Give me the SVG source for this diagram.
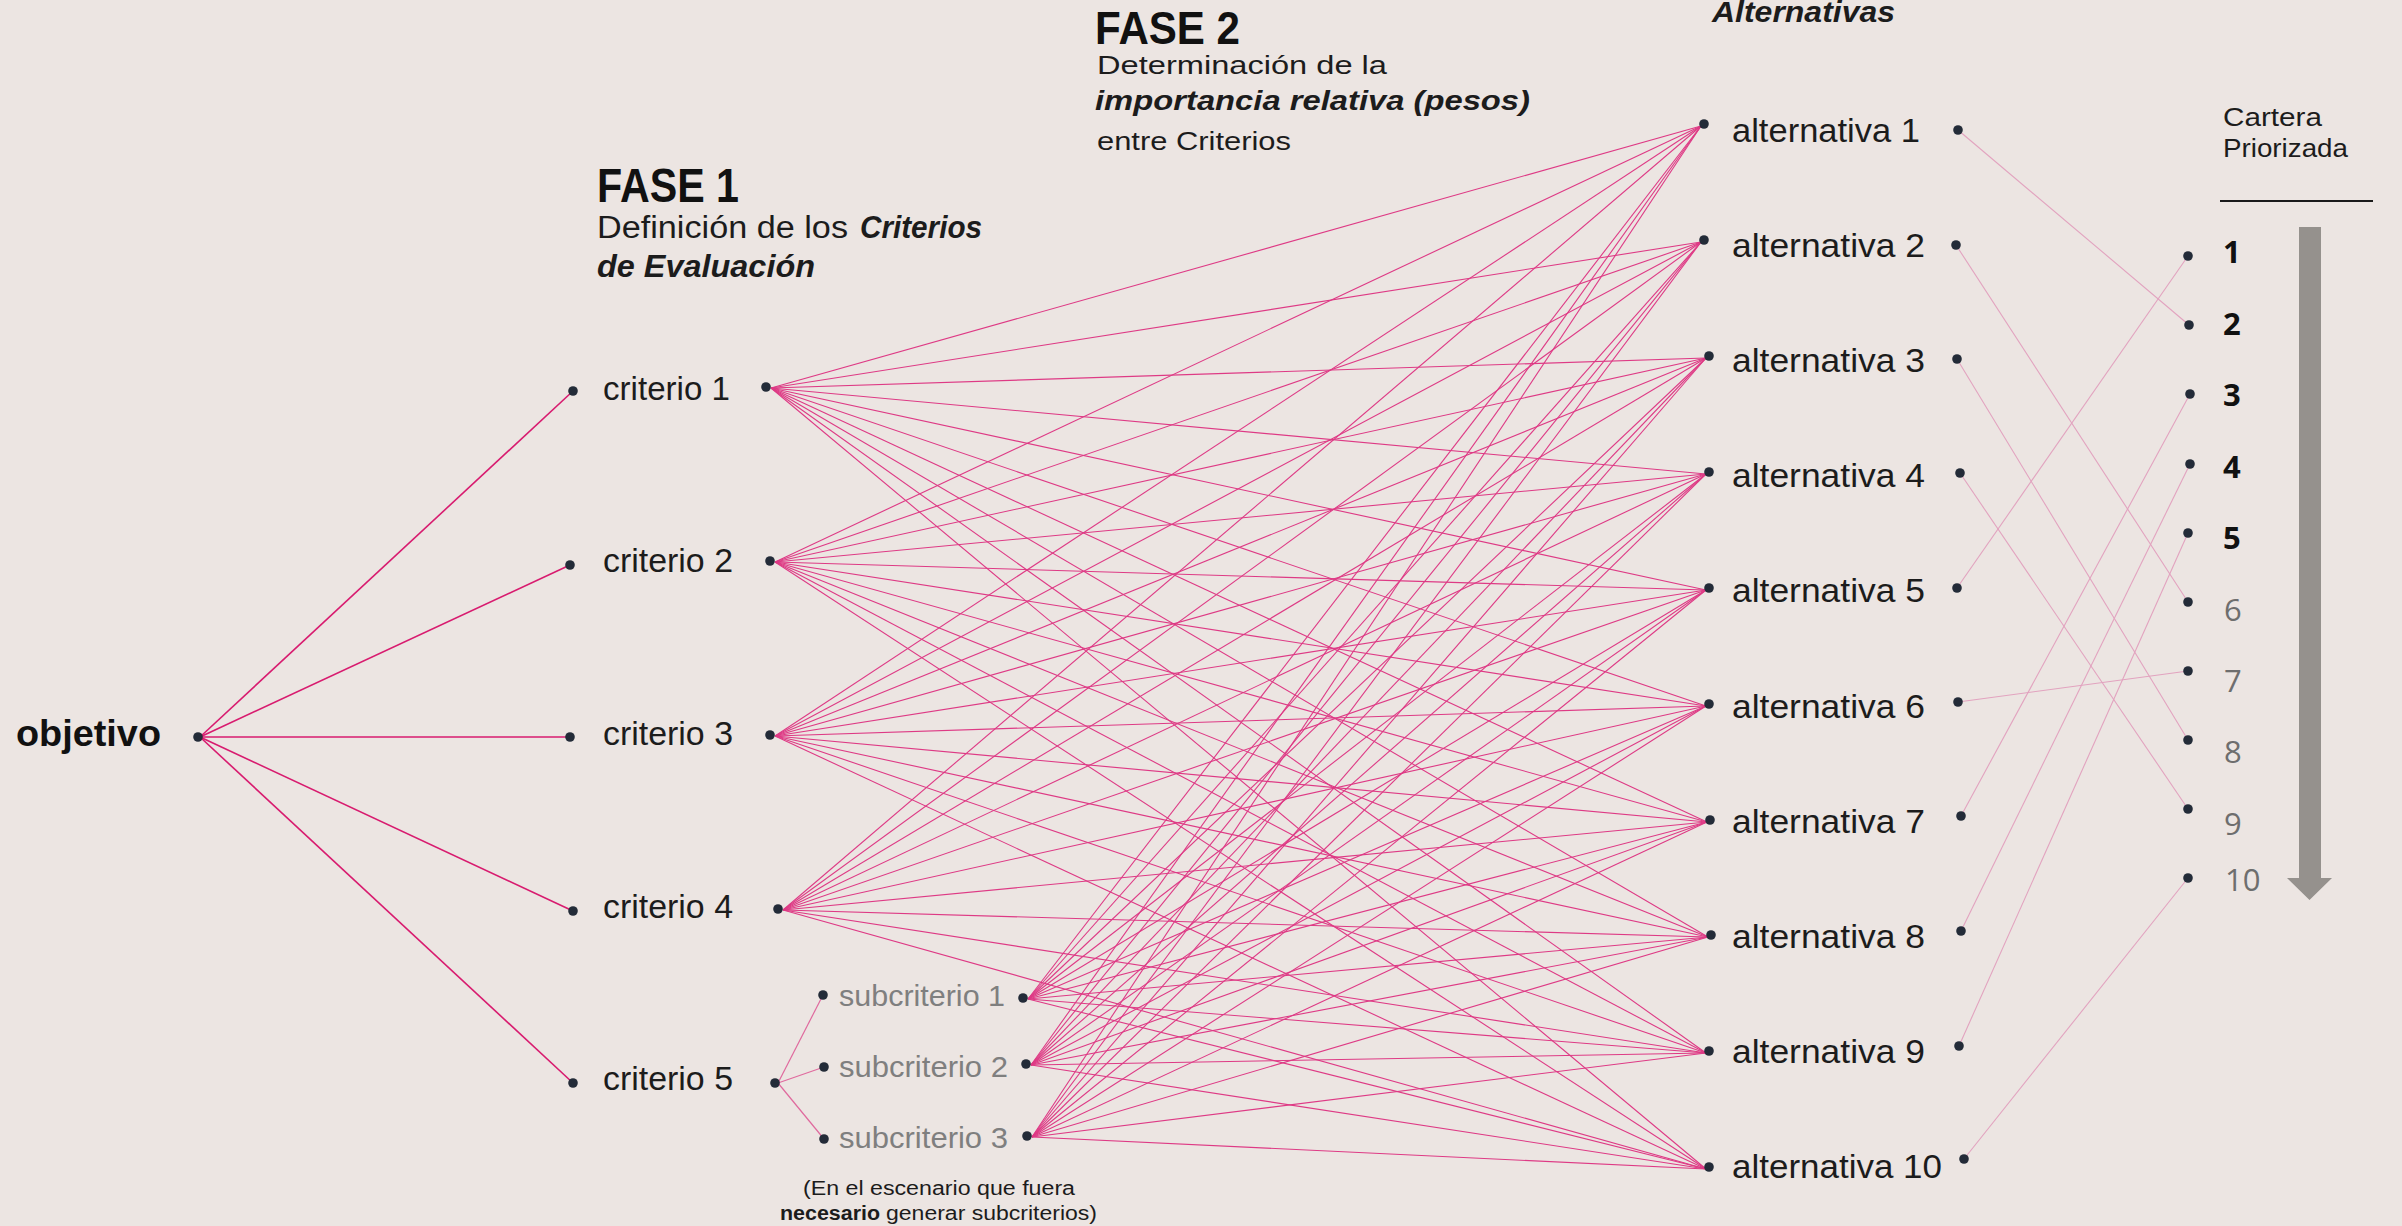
<svg xmlns="http://www.w3.org/2000/svg" width="2402" height="1226" viewBox="0 0 2402 1226">
<style>
.t{font-family:"Liberation Sans",Arial,sans-serif;fill:#1c1c1c}
.lbl{font-size:34px}
.sub{font-size:30px;fill:#7f7f7f}
.b{font-weight:700}
.bi{font-weight:700;font-style:italic}
.h{fill:#111}
.n{font-family:"Open Sans","Liberation Sans",sans-serif;font-size:31px;font-weight:700;fill:#111}
.ng{font-family:"Open Sans","Liberation Sans",sans-serif;font-size:31px;fill:#6e6e6e}
.d{fill:#232b38}
.fan{stroke:#de3a85;stroke-width:1.1;fill:none}
.obj{stroke:#d81b6f;stroke-width:1.6;fill:none}
.sc{stroke:#e06a9e;stroke-width:1.2;fill:none}
.rk{stroke:#e2a3bf;stroke-width:1.1;fill:none}
</style>
<rect x="0" y="0" width="2402" height="1226" fill="#ece5e2"/>

<g id="connectors">
<line class="obj" x1="200" y1="737" x2="573" y2="391"/>
<line class="obj" x1="200" y1="737" x2="570" y2="565"/>
<line class="obj" x1="200" y1="737" x2="570" y2="737"/>
<line class="obj" x1="200" y1="737" x2="573" y2="911"/>
<line class="obj" x1="200" y1="737" x2="573" y2="1083"/>
<line class="sc" x1="778" y1="1083" x2="823" y2="995"/>
<line class="sc" x1="778" y1="1083" x2="824" y2="1067"/>
<line class="sc" x1="778" y1="1083" x2="824" y2="1139"/>
<line class="fan" x1="771" y1="388" x2="1701" y2="126"/>
<line class="fan" x1="771" y1="388" x2="1701" y2="242"/>
<line class="fan" x1="771" y1="388" x2="1706" y2="358"/>
<line class="fan" x1="771" y1="388" x2="1706" y2="474"/>
<line class="fan" x1="771" y1="388" x2="1706" y2="590"/>
<line class="fan" x1="771" y1="388" x2="1706" y2="706"/>
<line class="fan" x1="771" y1="388" x2="1707" y2="822"/>
<line class="fan" x1="771" y1="388" x2="1708" y2="937"/>
<line class="fan" x1="771" y1="388" x2="1706" y2="1053"/>
<line class="fan" x1="771" y1="388" x2="1706" y2="1169"/>
<line class="fan" x1="775" y1="562" x2="1701" y2="126"/>
<line class="fan" x1="775" y1="562" x2="1701" y2="242"/>
<line class="fan" x1="775" y1="562" x2="1706" y2="358"/>
<line class="fan" x1="775" y1="562" x2="1706" y2="474"/>
<line class="fan" x1="775" y1="562" x2="1706" y2="590"/>
<line class="fan" x1="775" y1="562" x2="1706" y2="706"/>
<line class="fan" x1="775" y1="562" x2="1707" y2="822"/>
<line class="fan" x1="775" y1="562" x2="1708" y2="937"/>
<line class="fan" x1="775" y1="562" x2="1706" y2="1053"/>
<line class="fan" x1="775" y1="562" x2="1706" y2="1169"/>
<line class="fan" x1="775" y1="736" x2="1701" y2="126"/>
<line class="fan" x1="775" y1="736" x2="1701" y2="242"/>
<line class="fan" x1="775" y1="736" x2="1706" y2="358"/>
<line class="fan" x1="775" y1="736" x2="1706" y2="474"/>
<line class="fan" x1="775" y1="736" x2="1706" y2="590"/>
<line class="fan" x1="775" y1="736" x2="1706" y2="706"/>
<line class="fan" x1="775" y1="736" x2="1707" y2="822"/>
<line class="fan" x1="775" y1="736" x2="1708" y2="937"/>
<line class="fan" x1="775" y1="736" x2="1706" y2="1053"/>
<line class="fan" x1="775" y1="736" x2="1706" y2="1169"/>
<line class="fan" x1="783" y1="910" x2="1701" y2="126"/>
<line class="fan" x1="783" y1="910" x2="1701" y2="242"/>
<line class="fan" x1="783" y1="910" x2="1706" y2="358"/>
<line class="fan" x1="783" y1="910" x2="1706" y2="474"/>
<line class="fan" x1="783" y1="910" x2="1706" y2="590"/>
<line class="fan" x1="783" y1="910" x2="1706" y2="706"/>
<line class="fan" x1="783" y1="910" x2="1707" y2="822"/>
<line class="fan" x1="783" y1="910" x2="1708" y2="937"/>
<line class="fan" x1="783" y1="910" x2="1706" y2="1053"/>
<line class="fan" x1="783" y1="910" x2="1706" y2="1169"/>
<line class="fan" x1="1028" y1="999" x2="1701" y2="126"/>
<line class="fan" x1="1028" y1="999" x2="1701" y2="242"/>
<line class="fan" x1="1028" y1="999" x2="1706" y2="358"/>
<line class="fan" x1="1028" y1="999" x2="1706" y2="474"/>
<line class="fan" x1="1028" y1="999" x2="1706" y2="590"/>
<line class="fan" x1="1028" y1="999" x2="1706" y2="706"/>
<line class="fan" x1="1028" y1="999" x2="1707" y2="822"/>
<line class="fan" x1="1028" y1="999" x2="1708" y2="937"/>
<line class="fan" x1="1028" y1="999" x2="1706" y2="1053"/>
<line class="fan" x1="1028" y1="999" x2="1706" y2="1169"/>
<line class="fan" x1="1031" y1="1065" x2="1701" y2="126"/>
<line class="fan" x1="1031" y1="1065" x2="1701" y2="242"/>
<line class="fan" x1="1031" y1="1065" x2="1706" y2="358"/>
<line class="fan" x1="1031" y1="1065" x2="1706" y2="474"/>
<line class="fan" x1="1031" y1="1065" x2="1706" y2="590"/>
<line class="fan" x1="1031" y1="1065" x2="1706" y2="706"/>
<line class="fan" x1="1031" y1="1065" x2="1707" y2="822"/>
<line class="fan" x1="1031" y1="1065" x2="1708" y2="937"/>
<line class="fan" x1="1031" y1="1065" x2="1706" y2="1053"/>
<line class="fan" x1="1031" y1="1065" x2="1706" y2="1169"/>
<line class="fan" x1="1032" y1="1137" x2="1701" y2="126"/>
<line class="fan" x1="1032" y1="1137" x2="1701" y2="242"/>
<line class="fan" x1="1032" y1="1137" x2="1706" y2="358"/>
<line class="fan" x1="1032" y1="1137" x2="1706" y2="474"/>
<line class="fan" x1="1032" y1="1137" x2="1706" y2="590"/>
<line class="fan" x1="1032" y1="1137" x2="1706" y2="706"/>
<line class="fan" x1="1032" y1="1137" x2="1707" y2="822"/>
<line class="fan" x1="1032" y1="1137" x2="1708" y2="937"/>
<line class="fan" x1="1032" y1="1137" x2="1706" y2="1053"/>
<line class="fan" x1="1032" y1="1137" x2="1706" y2="1169"/>
<line class="rk" x1="1958" y1="130" x2="2189" y2="325"/>
<line class="rk" x1="1956" y1="245" x2="2188" y2="602"/>
<line class="rk" x1="1957" y1="359" x2="2188" y2="740"/>
<line class="rk" x1="1960" y1="473" x2="2188" y2="809"/>
<line class="rk" x1="1957" y1="588" x2="2188" y2="256"/>
<line class="rk" x1="1958" y1="702" x2="2188" y2="671"/>
<line class="rk" x1="1961" y1="816" x2="2190" y2="394"/>
<line class="rk" x1="1961" y1="931" x2="2190" y2="464"/>
<line class="rk" x1="1959" y1="1046" x2="2188" y2="533"/>
<line class="rk" x1="1964" y1="1159" x2="2188" y2="878"/>
</g>

<g id="titles">
<text class="t b h" x="597" y="202" font-size="48" textLength="142" lengthAdjust="spacingAndGlyphs">FASE 1</text>
<text class="t" x="597" y="238" font-size="31" textLength="251" lengthAdjust="spacingAndGlyphs">Definición de los</text>
<text class="t bi" x="860" y="238" font-size="31" textLength="122" lengthAdjust="spacingAndGlyphs">Criterios</text>
<text class="t bi" x="597" y="277" font-size="31" textLength="218" lengthAdjust="spacingAndGlyphs">de Evaluación</text>
<text class="t b h" x="1095" y="44" font-size="46" textLength="145" lengthAdjust="spacingAndGlyphs">FASE 2</text>
<text class="t" x="1097" y="74" font-size="26" textLength="290" lengthAdjust="spacingAndGlyphs">Determinación de la</text>
<text class="t bi" x="1095" y="110" font-size="27" textLength="435" lengthAdjust="spacingAndGlyphs">importancia relativa (pesos)</text>
<text class="t" x="1097" y="150" font-size="26" textLength="194" lengthAdjust="spacingAndGlyphs">entre Criterios</text>
<text class="t bi" x="1712" y="22" font-size="29" textLength="183" lengthAdjust="spacingAndGlyphs">Alternativas</text>
<text class="t" x="2223" y="126" font-size="26" textLength="99" lengthAdjust="spacingAndGlyphs">Cartera</text>
<text class="t" x="2223" y="157" font-size="26" textLength="125" lengthAdjust="spacingAndGlyphs">Priorizada</text>
<line x1="2220" y1="201" x2="2373" y2="201" stroke="#1a1a1a" stroke-width="2"/>
<polygon points="2299,227 2321,227 2321,878 2332,878 2309.5,900 2287,878 2299,878" fill="#95918d"/>
<text class="t" x="803" y="1195" font-size="20" textLength="272" lengthAdjust="spacingAndGlyphs">(En el escenario que fuera</text>
<text class="t b" x="780" y="1220" font-size="20" textLength="100" lengthAdjust="spacingAndGlyphs">necesario</text>
<text class="t" x="886" y="1220" font-size="20" textLength="211" lengthAdjust="spacingAndGlyphs">generar subcriterios)</text>
</g>

<g id="objetivo">
<circle class="d" cx="198" cy="737" r="4.8"/>
<text class="t b h" x="16" y="746" font-size="36" textLength="145" lengthAdjust="spacingAndGlyphs">objetivo</text>
</g>

<g id="criterio-1">
<circle class="d" cx="573" cy="391" r="4.8"/>
<text class="t lbl" x="603" y="400" textLength="127" lengthAdjust="spacingAndGlyphs">criterio 1</text>
<circle class="d" cx="766" cy="387" r="4.8"/>
</g>
<g id="criterio-2">
<circle class="d" cx="570" cy="565" r="4.8"/>
<text class="t lbl" x="603" y="572" textLength="130" lengthAdjust="spacingAndGlyphs">criterio 2</text>
<circle class="d" cx="770" cy="561" r="4.8"/>
</g>
<g id="criterio-3">
<circle class="d" cx="570" cy="737" r="4.8"/>
<text class="t lbl" x="603" y="745" textLength="130" lengthAdjust="spacingAndGlyphs">criterio 3</text>
<circle class="d" cx="770" cy="735" r="4.8"/>
</g>
<g id="criterio-4">
<circle class="d" cx="573" cy="911" r="4.8"/>
<text class="t lbl" x="603" y="918" textLength="130" lengthAdjust="spacingAndGlyphs">criterio 4</text>
<circle class="d" cx="778" cy="909" r="4.8"/>
</g>
<g id="criterio-5">
<circle class="d" cx="573" cy="1083" r="4.8"/>
<text class="t lbl" x="603" y="1090" textLength="130" lengthAdjust="spacingAndGlyphs">criterio 5</text>
<circle class="d" cx="775" cy="1083" r="4.8"/>
</g>

<g id="subcriterio-1">
<circle class="d" cx="823" cy="995" r="4.8"/>
<text class="t sub" x="839" y="1006" textLength="166" lengthAdjust="spacingAndGlyphs">subcriterio 1</text>
<circle class="d" cx="1023" cy="998" r="4.8"/>
</g>
<g id="subcriterio-2">
<circle class="d" cx="824" cy="1067" r="4.8"/>
<text class="t sub" x="839" y="1077" textLength="169" lengthAdjust="spacingAndGlyphs">subcriterio 2</text>
<circle class="d" cx="1026" cy="1064" r="4.8"/>
</g>
<g id="subcriterio-3">
<circle class="d" cx="824" cy="1139" r="4.8"/>
<text class="t sub" x="839" y="1148" textLength="169" lengthAdjust="spacingAndGlyphs">subcriterio 3</text>
<circle class="d" cx="1027" cy="1136" r="4.8"/>
</g>

<g id="alternativa-1">
<circle class="d" cx="1704" cy="124" r="4.8"/>
<text class="t lbl" x="1732" y="142" textLength="188" lengthAdjust="spacingAndGlyphs">alternativa 1</text>
<circle class="d" cx="1958" cy="130" r="4.8"/>
</g>
<g id="alternativa-2">
<circle class="d" cx="1704" cy="240" r="4.8"/>
<text class="t lbl" x="1732" y="257" textLength="193" lengthAdjust="spacingAndGlyphs">alternativa 2</text>
<circle class="d" cx="1956" cy="245" r="4.8"/>
</g>
<g id="alternativa-3">
<circle class="d" cx="1709" cy="356" r="4.8"/>
<text class="t lbl" x="1732" y="372" textLength="193" lengthAdjust="spacingAndGlyphs">alternativa 3</text>
<circle class="d" cx="1957" cy="359" r="4.8"/>
</g>
<g id="alternativa-4">
<circle class="d" cx="1709" cy="472" r="4.8"/>
<text class="t lbl" x="1732" y="487" textLength="193" lengthAdjust="spacingAndGlyphs">alternativa 4</text>
<circle class="d" cx="1960" cy="473" r="4.8"/>
</g>
<g id="alternativa-5">
<circle class="d" cx="1709" cy="588" r="4.8"/>
<text class="t lbl" x="1732" y="602" textLength="193" lengthAdjust="spacingAndGlyphs">alternativa 5</text>
<circle class="d" cx="1957" cy="588" r="4.8"/>
</g>
<g id="alternativa-6">
<circle class="d" cx="1709" cy="704" r="4.8"/>
<text class="t lbl" x="1732" y="718" textLength="193" lengthAdjust="spacingAndGlyphs">alternativa 6</text>
<circle class="d" cx="1958" cy="702" r="4.8"/>
</g>
<g id="alternativa-7">
<circle class="d" cx="1710" cy="820" r="4.8"/>
<text class="t lbl" x="1732" y="833" textLength="193" lengthAdjust="spacingAndGlyphs">alternativa 7</text>
<circle class="d" cx="1961" cy="816" r="4.8"/>
</g>
<g id="alternativa-8">
<circle class="d" cx="1711" cy="935" r="4.8"/>
<text class="t lbl" x="1732" y="948" textLength="193" lengthAdjust="spacingAndGlyphs">alternativa 8</text>
<circle class="d" cx="1961" cy="931" r="4.8"/>
</g>
<g id="alternativa-9">
<circle class="d" cx="1709" cy="1051" r="4.8"/>
<text class="t lbl" x="1732" y="1063" textLength="193" lengthAdjust="spacingAndGlyphs">alternativa 9</text>
<circle class="d" cx="1959" cy="1046" r="4.8"/>
</g>
<g id="alternativa-10">
<circle class="d" cx="1709" cy="1167" r="4.8"/>
<text class="t lbl" x="1732" y="1178" textLength="210" lengthAdjust="spacingAndGlyphs">alternativa 10</text>
<circle class="d" cx="1964" cy="1159" r="4.8"/>
</g>

<g id="rank-1"><circle class="d" cx="2188" cy="256" r="4.8"/><text class="n" x="2223" y="263">1</text></g>
<g id="rank-2"><circle class="d" cx="2189" cy="325" r="4.8"/><text class="n" x="2223" y="335">2</text></g>
<g id="rank-3"><circle class="d" cx="2190" cy="394" r="4.8"/><text class="n" x="2223" y="406">3</text></g>
<g id="rank-4"><circle class="d" cx="2190" cy="464" r="4.8"/><text class="n" x="2223" y="478">4</text></g>
<g id="rank-5"><circle class="d" cx="2188" cy="533" r="4.8"/><text class="n" x="2223" y="549">5</text></g>
<g id="rank-6"><circle class="d" cx="2188" cy="602" r="4.8"/><text class="ng" x="2224" y="621">6</text></g>
<g id="rank-7"><circle class="d" cx="2188" cy="671" r="4.8"/><text class="ng" x="2224" y="692">7</text></g>
<g id="rank-8"><circle class="d" cx="2188" cy="740" r="4.8"/><text class="ng" x="2224" y="763">8</text></g>
<g id="rank-9"><circle class="d" cx="2188" cy="809" r="4.8"/><text class="ng" x="2224" y="835">9</text></g>
<g id="rank-10"><circle class="d" cx="2188" cy="878" r="4.8"/><text class="ng" x="2225" y="891">10</text></g>
</svg>
